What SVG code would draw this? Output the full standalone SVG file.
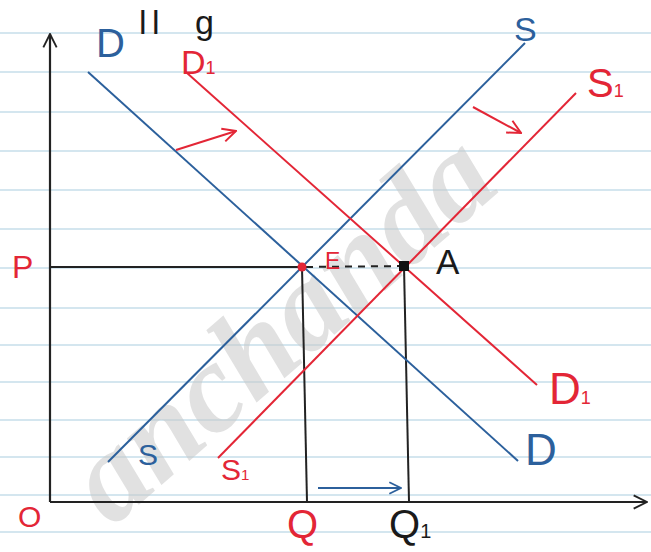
<svg xmlns="http://www.w3.org/2000/svg" width="651" height="552" viewBox="0 0 651 552">
<defs>
<marker id="chevR" viewBox="0 0 12 12" refX="11" refY="6" markerWidth="16" markerHeight="16" markerUnits="userSpaceOnUse" orient="auto"><path d="M1,1 L11,6 L1,11" fill="none" stroke="#e32636" stroke-width="1.5"/></marker>
<marker id="chevB" viewBox="0 0 12 12" refX="11" refY="6" markerWidth="14" markerHeight="14" markerUnits="userSpaceOnUse" orient="auto"><path d="M1,1 L11,6 L1,11" fill="none" stroke="#2c609c" stroke-width="1.5"/></marker>
<marker id="chevK" viewBox="0 0 12 12" refX="11" refY="6" markerWidth="16" markerHeight="16" markerUnits="userSpaceOnUse" orient="auto"><path d="M1,1 L11,6 L1,11" fill="none" stroke="#222" stroke-width="1.4"/></marker>
</defs>
<style>
.rule{stroke:#d4e6ef;stroke-width:2}
.ax{stroke:#222;stroke-width:2.2;fill:none}
.blk{stroke:#222;stroke-width:2;fill:none}
.blue{stroke:#2c609c;stroke-width:2;fill:none}
.red{stroke:#e32636;stroke-width:2;fill:none}
text{font-family:"Liberation Sans","DejaVu Sans",sans-serif}
.tb{fill:#2c609c}
.tr{fill:#e32636}
.tk{fill:#1a1a1a}
.wm{font-family:"Liberation Serif","DejaVu Serif",serif;font-style:italic;font-weight:bold;fill:#c9c9c9;opacity:0.55}
</style>
<rect width="651" height="552" fill="#ffffff"/>
<g id="paper">
<line class="rule" x1="0" y1="33" x2="651" y2="33"/>
<line class="rule" x1="0" y1="72" x2="651" y2="72"/>
<line class="rule" x1="0" y1="112" x2="651" y2="112"/>
<line class="rule" x1="0" y1="151" x2="651" y2="151"/>
<line class="rule" x1="0" y1="190" x2="651" y2="190"/>
<line class="rule" x1="0" y1="229" x2="651" y2="229"/>
<line class="rule" x1="0" y1="268" x2="651" y2="268"/>
<line class="rule" x1="0" y1="308" x2="651" y2="308"/>
<line class="rule" x1="0" y1="345" x2="651" y2="345"/>
<line class="rule" x1="0" y1="382" x2="651" y2="382"/>
<line class="rule" x1="0" y1="420" x2="651" y2="420"/>
<line class="rule" x1="0" y1="457" x2="651" y2="457"/>
<line class="rule" x1="0" y1="495" x2="651" y2="495"/>
<line class="rule" x1="0" y1="532" x2="651" y2="532"/>
</g>
<text class="wm" font-size="126" transform="translate(112,528) rotate(-41)">anchanda</text>
<text class="tk" font-size="34" y="34"><tspan x="139">l</tspan><tspan x="152">l</tspan><tspan x="195">g</tspan></text>
<g id="connectors">
<line class="ax" x1="50" y1="502" x2="50" y2="34" marker-end="url(#chevK)"/>
<line class="ax" x1="50" y1="502" x2="647" y2="502" marker-end="url(#chevK)"/>
<line class="blk" x1="50" y1="267" x2="302" y2="267"/>
<line class="blk" x1="306" y1="267" x2="404" y2="266" stroke-dasharray="7,6"/>
<line class="blk" x1="302" y1="267" x2="307" y2="502"/>
<line class="blk" x1="404" y1="266" x2="409" y2="502"/>
<line id="curve-D" class="blue" x1="88" y1="72" x2="518" y2="461"/>
<line id="curve-S" class="blue" x1="108" y1="462" x2="525" y2="43"/>
<line id="curve-D1" class="red" x1="187" y1="73" x2="537" y2="385"/>
<line id="curve-S1" class="red" x1="218" y1="458" x2="576" y2="93"/>
<line class="red" x1="176" y1="150" x2="236" y2="131" marker-end="url(#chevR)"/>
<line class="red" x1="473" y1="107" x2="521" y2="133" marker-end="url(#chevR)"/>
<line class="blue" x1="318" y1="488" x2="401" y2="488" stroke-width="1.8" marker-end="url(#chevB)"/>
</g>
<g id="point-E"><circle cx="302" cy="267" r="4.5" fill="#e32636"/><text class="tr" x="325" y="269" font-size="23">E</text></g>
<g id="point-A"><rect x="399" y="261" width="10" height="10" fill="#111"/><text class="tk" x="436" y="274" font-size="35">A</text></g>
<g id="label-D-top"><text class="tb" x="96" y="57" font-size="40">D</text></g>
<g id="label-D1-top"><text class="tr" x="181" y="74" font-size="34">D<tspan font-size="18">1</tspan></text></g>
<g id="label-S-top"><text class="tb" x="514" y="41" font-size="34">S</text></g>
<g id="label-S1-top"><text class="tr" x="587" y="97" font-size="40">S<tspan font-size="18">1</tspan></text></g>
<g id="label-P"><text class="tr" x="12" y="278" font-size="32">P</text></g>
<g id="label-D1-bottom"><text class="tr" x="549" y="404" font-size="44">D<tspan font-size="18">1</tspan></text></g>
<g id="label-D-bottom"><text class="tb" x="525" y="465" font-size="44">D</text></g>
<g id="label-S-bottom"><text class="tb" x="138" y="465" font-size="30">S</text></g>
<g id="label-S1-bottom"><text class="tr" x="221" y="480" font-size="30">S<tspan font-size="15">1</tspan></text></g>
<g id="label-O"><text class="tr" x="18" y="527" font-size="30">O</text></g>
<g id="label-Q"><text class="tr" x="287" y="538" font-size="40">Q</text></g>
<g id="label-Q1"><text class="tk" x="389" y="538" font-size="40">Q<tspan font-size="20">1</tspan></text></g>
</svg>
